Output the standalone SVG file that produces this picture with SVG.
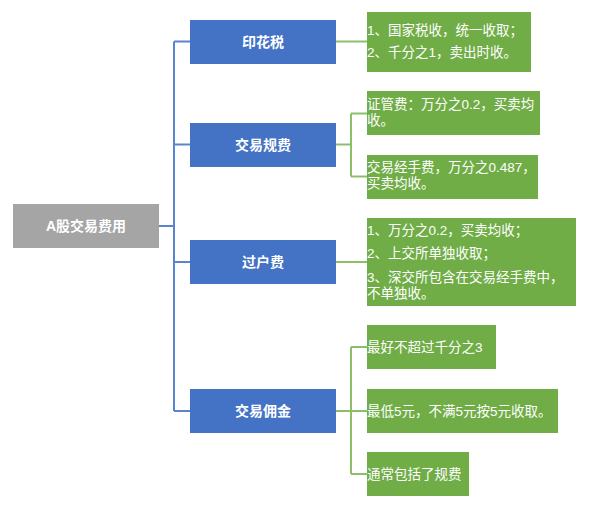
<svg xmlns="http://www.w3.org/2000/svg" width="597" height="511" viewBox="0 0 597 511">
<style>
.root{fill:#A5A5A5}
.blue{fill:#4472C4}
.green{fill:#70AD47}
.tb{font-family:"Liberation Sans","Noto Sans CJK SC",sans-serif;font-size:14px;font-weight:bold;fill:#FFFFFF;text-anchor:middle;dominant-baseline:central}
.tg{font-family:"Liberation Sans","Noto Sans CJK SC",sans-serif;font-size:13.5px;fill:#FFFFFF}
.cb{fill:none;stroke:#5B84CE;stroke-width:2}
.cg{fill:none;stroke:#8DBF6A;stroke-width:2}
</style>
<rect width="597" height="511" fill="#FFFFFF"/>
<g id="connectors">
<path class="cb" d="M159 226H174M174 41.5V411M174 41.5H190M174 144.5H190M174 262H190M174 411H190"/>
<path class="cg" d="M336 41.5H367"/>
<path class="cg" d="M336 144.5H351M351 113.5V176.5M351 113.5H367M351 176.5H367"/>
<path class="cg" d="M336 262H367"/>
<path class="cg" d="M336 411H367M351 347V474M351 347H367M351 474H367"/>
</g>
<g id="root">
<rect class="root" x="13" y="204" width="146" height="44"/>
<text class="tb" x="86" y="226">A股交易费用</text>
</g>
<g id="n1">
<rect class="blue" x="190" y="20" width="146" height="44"/>
<text class="tb" x="263" y="42">印花税</text>
</g>
<g id="n2">
<rect class="blue" x="190" y="123" width="146" height="44"/>
<text class="tb" x="263" y="145">交易规费</text>
</g>
<g id="n3">
<rect class="blue" x="190" y="240" width="146" height="44"/>
<text class="tb" x="263" y="262">过户费</text>
</g>
<g id="n4">
<rect class="blue" x="190" y="389" width="146" height="44"/>
<text class="tb" x="263" y="411">交易佣金</text>
</g>
<g id="n1a">
<rect class="green" x="367" y="12" width="164" height="60"/>
<text class="tg" x="367" y="35">1、国家税收，统一收取；</text>
<text class="tg" x="367" y="57">2、千分之1，卖出时收。</text>
</g>
<g id="n2a">
<rect class="green" x="367" y="91" width="173" height="44"/>
<text class="tg" x="367" y="109">证管费：万分之0.2，买卖均</text>
<text class="tg" x="367" y="125">收。</text>
</g>
<g id="n2b">
<rect class="green" x="367" y="155" width="171" height="44"/>
<text class="tg" x="367" y="172">交易经手费，万分之0.487，</text>
<text class="tg" x="367" y="188">买卖均收。</text>
</g>
<g id="n3a">
<rect class="green" x="367" y="218" width="209" height="88"/>
<text class="tg" x="367" y="235">1、万分之0.2，买卖均收；</text>
<text class="tg" x="367" y="258">2、上交所单独收取；</text>
<text class="tg" x="367" y="282">3、深交所包含在交易经手费中，</text>
<text class="tg" x="367" y="298">不单独收。</text>
</g>
<g id="n4a">
<rect class="green" x="367" y="325" width="129" height="44"/>
<text class="tg" x="367" y="352">最好不超过千分之3</text>
</g>
<g id="n4b">
<rect class="green" x="367" y="389" width="191" height="44"/>
<text class="tg" x="367" y="416">最低5元，不满5元按5元收取。</text>
</g>
<g id="n4c">
<rect class="green" x="367" y="452" width="102" height="44"/>
<text class="tg" x="367" y="479">通常包括了规费</text>
</g>
</svg>
